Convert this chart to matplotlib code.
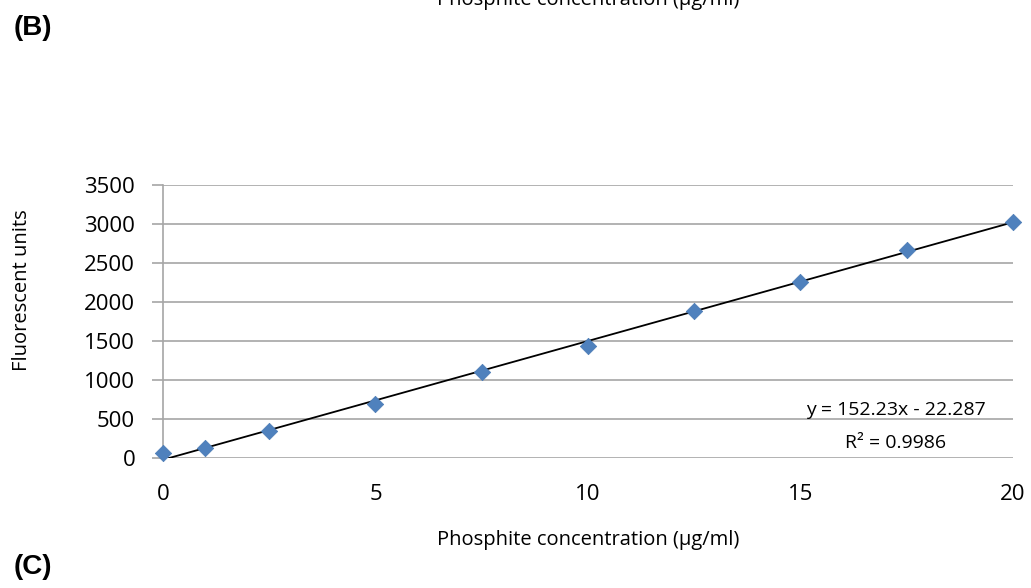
import numpy as np
import matplotlib.pyplot as plt

# Datos de la curva de calibracion
concentracion = [0, 1, 2.5, 5, 7.5, 10, 12.5, 15, 17.5, 20]
fluorescencia = [64, 128, 346, 692, 1103, 1436, 1885, 2256, 2667, 3026]

# Linea de tendencia (de la ecuacion mostrada)
pendiente = 152.23
intercepto = -22.287
r2 = 0.9986

y_ticks = [0, 500, 1000, 1500, 2000, 2500, 3000, 3500]
x_ticks = [0, 5, 10, 15, 20]

fuente = 'Open Sans'
gris = '#a6a6a6'

fig = plt.figure(figsize=(10.31, 5.88), dpi=100)
ax = fig.add_axes([0.1581, 0.2211, 0.8244, 0.4643])

x_linea = np.array([0, 20])
ax.plot(x_linea, pendiente * x_linea + intercepto, color='black', lw=1.3, zorder=3)
ax.scatter(concentracion, fluorescencia, marker='D', s=70, color='#4f81bd',
           edgecolors='#4a7ab5', linewidths=0.5, zorder=4, clip_on=False)

ax.set_xlim(0, 20)
ax.set_ylim(0, 3500)
ax.set_xticks(x_ticks)
ax.set_yticks(y_ticks)
ax.yaxis.grid(True, color=gris, lw=1.2)
ax.set_axisbelow(True)
for lado in ['top', 'right', 'bottom']:
    ax.spines[lado].set_visible(False)
ax.spines['left'].set_color(gris)
ax.spines['left'].set_linewidth(1.2)
ax.tick_params(axis='y', length=8, color=gris, width=1.2, pad=12)
ax.tick_params(axis='x', length=0, pad=19)
for lbl in ax.get_xticklabels() + ax.get_yticklabels():
    lbl.set_fontfamily(fuente)
    lbl.set_fontsize(16)

ax.set_xlabel('Phosphite concentration (µg/ml)', fontfamily=fuente, fontsize=14.5, labelpad=18)
# etiqueta del eje y un poco por encima del centro, como en el original
fig.text(22 / 1031, 1 - 290 / 588, 'Fluorescent units', rotation=90, ha='center', va='center',
         fontfamily=fuente, fontsize=14.5)

ax.text(0.862, 0.175, 'y = 152.23x - 22.287', transform=ax.transAxes, ha='center',
        va='center', fontfamily=fuente, fontsize=14)
ax.text(0.862, 0.055, 'R² = 0.9986', transform=ax.transAxes, ha='center',
        va='center', fontfamily=fuente, fontsize=14)

fig.text(588 / 1031, 1.0, 'Phosphite concentration (µg/ml)', ha='center', va='center',
         fontfamily=fuente, fontsize=14.5)
fig.text(14 / 1031, 1 - 28 / 588, '(B)', ha='left', va='center',
         fontfamily='Liberation Sans', fontweight='bold', fontsize=20)
fig.text(14 / 1031, 1 - 567 / 588, '(C)', ha='left', va='center',
         fontfamily='Liberation Sans', fontweight='bold', fontsize=20)

plt.savefig('out.png', dpi=100)
